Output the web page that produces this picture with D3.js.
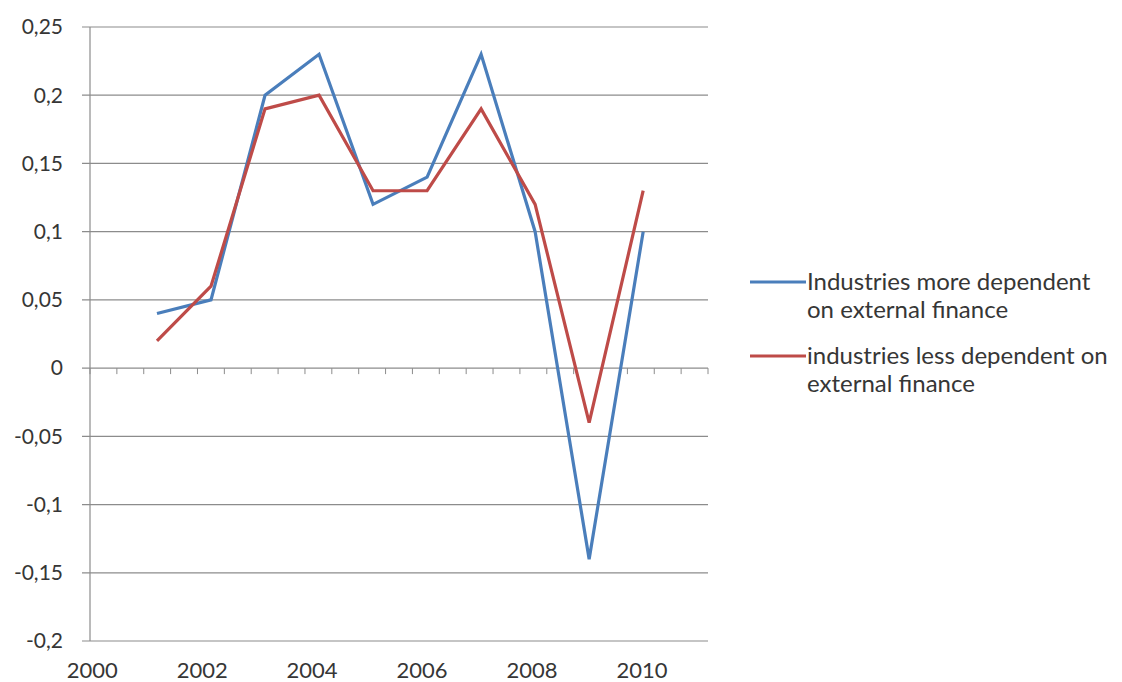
<!DOCTYPE html>
<html>
<head>
<meta charset="utf-8">
<script src="https://cdn.jsdelivr.net/npm/d3@7"></script>
<style>
    body { margin: 0; background: #ffffff; }
    svg { display: block; font-family: "Lato", "Open Sans", sans-serif; }
</style>
</head>
<body>
<svg id="svg"></svg>
<script>

// chart values
const years = [2001, 2002, 2003, 2004, 2005, 2006, 2007, 2008, 2009, 2010];
const moreDependent = [0.04, 0.05, 0.2, 0.23, 0.12, 0.14, 0.23, 0.1, -0.14, 0.1];
const lessDependent = [0.02, 0.06, 0.19, 0.2, 0.13, 0.13, 0.19, 0.12, -0.04, 0.13];

const yTicks = [-0.2, -0.15, -0.1, -0.05, 0, 0.05, 0.1, 0.15, 0.2, 0.25];
const xLabels = [2000, 2002, 2004, 2006, 2008, 2010];

const seriesNames = [
    ["Industries more dependent", "on external finance"],
    ["industries less dependent on", "external finance"]
];
const seriesColours = ["#4a7ebb", "#be4b48"];

const width = 1122;
const height = 682;

let svg = d3.select("#svg")
    .attr("width", width)
    .attr("height", height);

// plot area
const plot = { left: 90, right: 708, top: 27, bottom: 641 };

let yScale = d3.scaleLinear()
    .domain([-0.2, 0.25])
    .range([plot.bottom, plot.top]);

// the points sit a little right of the year labels in the original
let xScale = d3.scaleLinear()
    .domain([1999.76, 2011.2])
    .range([plot.left, plot.right]);

let labelScale = d3.scaleLinear()
    .domain([1999.96, 2011.2])
    .range([plot.left, plot.right]);

// small ticks on the zero line, 23 even steps
let tickScale = d3.scaleLinear()
    .domain([0, 23])
    .range([plot.left, plot.right]);

const fmt = v => d3.format(",")(v).replace(".", ",").replace("−", "-");
const textColour = "#363636";

// gridlines
svg.append("g")
    .selectAll("line")
    .data(yTicks)
    .join("line")
    .attr("x1", plot.left - 8)
    .attr("x2", plot.right)
    .attr("y1", d => yScale(d))
    .attr("y2", d => yScale(d))
    .attr("stroke", "#8c8c8c")
    .attr("stroke-width", 1.2);

// y axis line
svg.append("line")
    .attr("x1", plot.left)
    .attr("x2", plot.left)
    .attr("y1", plot.top)
    .attr("y2", plot.bottom)
    .attr("stroke", "#8c8c8c")
    .attr("stroke-width", 1.2);

// y labels
svg.append("g")
    .selectAll("text")
    .data(yTicks)
    .join("text")
    .attr("x", 63)
    .attr("y", d => yScale(d))
    .attr("dy", "0.35em")
    .attr("text-anchor", "end")
    .style("font-size", "21px")
    .style("fill", textColour)
    .text(d => fmt(d));

// ticks on the horizontal axis (crosses at 0)
svg.append("g")
    .selectAll("line")
    .data(d3.range(24))
    .join("line")
    .attr("x1", d => tickScale(d))
    .attr("x2", d => tickScale(d))
    .attr("y1", yScale(0))
    .attr("y2", yScale(0) + 6)
    .attr("stroke", "#8c8c8c")
    .attr("stroke-width", 1);

// x labels at the bottom
svg.append("g")
    .selectAll("text")
    .data(xLabels)
    .join("text")
    .attr("x", d => labelScale(d))
    .attr("y", 670)
    .attr("dy", "0.35em")
    .attr("text-anchor", "middle")
    .style("font-size", "22px")
    .style("fill", textColour)
    .text(d => d);

// lines
let line = d3.line()
    .x(d => xScale(d[0]))
    .y(d => yScale(d[1]));

[moreDependent, lessDependent].forEach((vals, i) => {
    svg.append("path")
        .datum(years.map((y, j) => [y, vals[j]]))
        .attr("d", line)
        .attr("fill", "none")
        .attr("stroke", seriesColours[i])
        .attr("stroke-width", 3.2)
        .attr("stroke-linejoin", "miter");
});

// legend
const legendY = [282, 356];
seriesNames.forEach((lines, i) => {
    svg.append("line")
        .attr("x1", 750)
        .attr("x2", 806)
        .attr("y1", legendY[i])
        .attr("y2", legendY[i])
        .attr("stroke", seriesColours[i])
        .attr("stroke-width", 3.2);

    svg.append("text")
        .attr("x", 807)
        .attr("y", legendY[i])
        .style("font-size", "24px")
        .style("fill", textColour)
        .selectAll("tspan")
        .data(lines)
        .join("tspan")
        .attr("x", 807)
        .attr("dy", (d, k) => k == 0 ? "0.35em" : "1.17em")
        .text(d => d);
});

</script>
</body>
</html>
